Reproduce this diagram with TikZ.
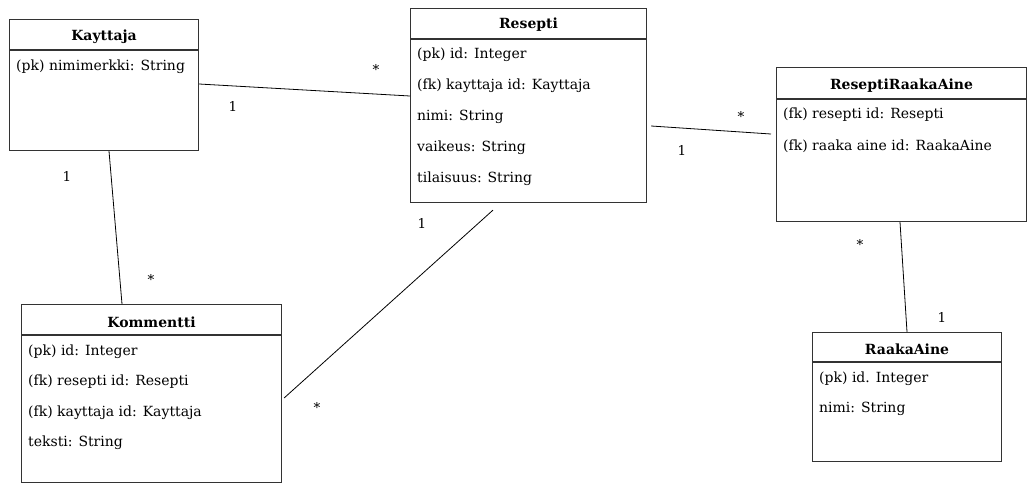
\documentclass[tikz,border=0pt]{standalone}
\usepackage{fontspec}
\setmainfont{DejaVu Serif}
\begin{document}
\begin{tikzpicture}[x=1pt,y=-1pt,
  entity/.style={draw=black!80, line width=1.1pt, anchor=north west, inner sep=0pt, fill=white},
  sep/.style={draw=black!80, line width=1.1pt},
  ttl/.style={font=\fontsize{14}{16}\selectfont\bfseries, inner sep=0pt},
  attr/.style={font=\fontsize{14}{16}\selectfont, anchor=west, inner sep=0pt},
  conn/.style={draw=black, line width=0.8pt},
  mult/.style={font=\fontsize{13.5}{16}\selectfont, inner sep=0pt}]
\useasboundingbox (0,0) rectangle (1032,490);

% Kayttaja
\node[entity, minimum width=189pt, minimum height=131pt] (kay) at (9,19) {};
\node[ttl] (kayT) at ([yshift=-18pt]kay.north) {Kayttaja};
\draw[sep] ([yshift=-31pt]kay.north west) -- ([yshift=-31pt]kay.north east);
\node[attr] (kay1) at ([xshift=7pt,yshift=-48pt]kay.north west) {(pk) nimimerkki: String};

% Resepti
\node[entity, minimum width=236pt, minimum height=194pt] (res) at (410,8) {};
\node[ttl] (resT) at ([yshift=-17pt]res.north) {Resepti};
\draw[sep] ([yshift=-31pt]res.north west) -- ([yshift=-31pt]res.north east);
\node[attr] (res1) at ([xshift=7pt,yshift=-47pt]res.north west) {(pk) id: Integer};
\node[attr] (res2) at ([xshift=7pt,yshift=-78pt]res.north west) {(fk) kayttaja id: Kayttaja};
\node[attr] (res3) at ([xshift=7pt,yshift=-109pt]res.north west) {nimi: String};
\node[attr] (res4) at ([xshift=7pt,yshift=-140pt]res.north west) {vaikeus: String};
\node[attr] (res5) at ([xshift=7pt,yshift=-171pt]res.north west) {tilaisuus: String};

% ReseptiRaakaAine
\node[entity, minimum width=250pt, minimum height=154pt] (rra) at (776,67) {};
\node[ttl] (rraT) at ([yshift=-19pt]rra.north) {ReseptiRaakaAine};
\draw[sep] ([yshift=-32pt]rra.north west) -- ([yshift=-32pt]rra.north east);
\node[attr] (rra1) at ([xshift=7pt,yshift=-48pt]rra.north west) {(fk) resepti id: Resepti};
\node[attr] (rra2) at ([xshift=7pt,yshift=-79pt]rra.north west) {(fk) raaka aine id: RaakaAine};

% RaakaAine
\node[entity, minimum width=189pt, minimum height=129pt] (raa) at (812,332) {};
\node[ttl] (raaT) at ([yshift=-17pt]raa.north) {RaakaAine};
\draw[sep] ([yshift=-30pt]raa.north west) -- ([yshift=-30pt]raa.north east);
\node[attr] (raa1) at ([xshift=7pt,yshift=-47pt]raa.north west) {(pk) id. Integer};
\node[attr] (raa2) at ([xshift=7pt,yshift=-77pt]raa.north west) {nimi: String};

% Kommentti
\node[entity, minimum width=260pt, minimum height=178pt] (kom) at (21,304) {};
\node[ttl] (komT) at ([yshift=-18pt]kom.north) {Kommentti};
\draw[sep] ([yshift=-31pt]kom.north west) -- ([yshift=-31pt]kom.north east);
\node[attr] (kom1) at ([xshift=7pt,yshift=-48pt]kom.north west) {(pk) id: Integer};
\node[attr] (kom2) at ([xshift=7pt,yshift=-78pt]kom.north west) {(fk) resepti id: Resepti};
\node[attr] (kom3) at ([xshift=7pt,yshift=-109pt]kom.north west) {(fk) kayttaja id: Kayttaja};
\node[attr] (kom4) at ([xshift=7pt,yshift=-139pt]kom.north west) {teksti: String};

% Connectors
\draw[conn] ([yshift=-65pt]kay.north east) -- ([yshift=-88pt]res.north west);
\draw[conn] ([xshift=4pt,yshift=-118pt]res.north east) -- ([xshift=-5pt,yshift=-67pt]rra.north west);
\draw[conn] ([xshift=124pt]rra.south west) -- ([xshift=95pt]raa.north west);
\draw[conn] ([xshift=100pt]kay.south west) -- ([xshift=101pt]kom.north west);
\draw[conn] ([xshift=83pt,yshift=-7pt]res.south west) -- ([xshift=2pt,yshift=-94pt]kom.north east);

% Multiplicities
\node[mult] (m1) at (376,69) {*};
\node[mult] (m2) at (233,106) {1};
\node[mult] (m3) at (741,116) {*};
\node[mult] (m4) at (682,150) {1};
\node[mult] (m5) at (860,244) {*};
\node[mult] (m6) at (942,317) {1};
\node[mult] (m7) at (67,176) {1};
\node[mult] (m8) at (151,279) {*};
\node[mult] (m9) at (422,223) {1};
\node[mult] (m10) at (317,407) {*};
\end{tikzpicture}
\end{document}
